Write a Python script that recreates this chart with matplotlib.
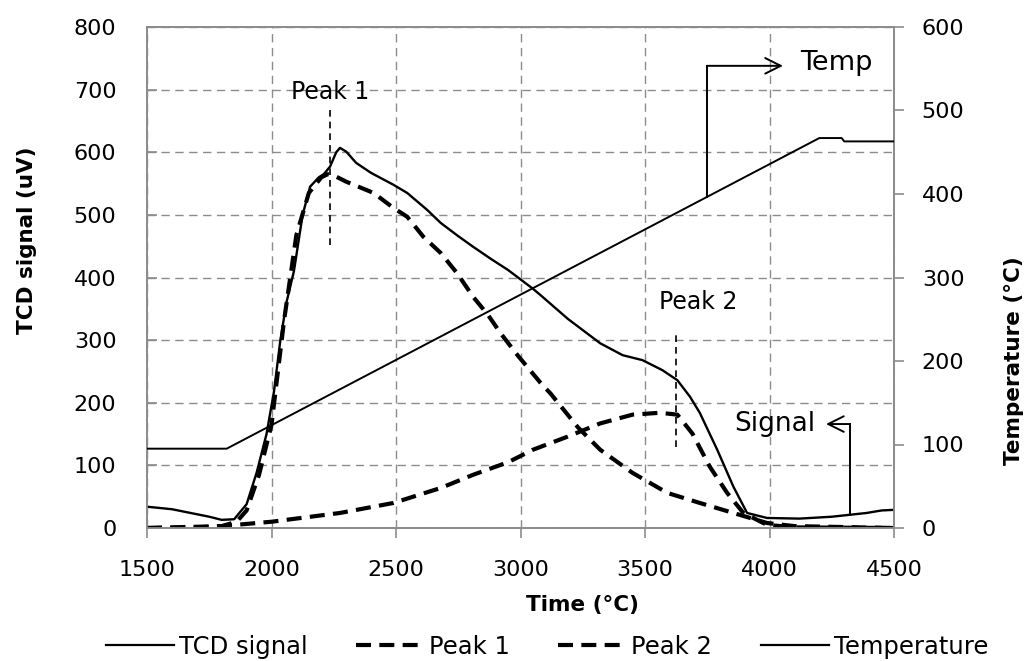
import numpy as np
import matplotlib
matplotlib.use("Agg")
import matplotlib.pyplot as plt
from matplotlib.lines import Line2D

plt.rcParams["font.family"] = ["DejaVu Sans"]

# TCD signal (uV) vs time
sig_t = [1500, 1600, 1700, 1750, 1800, 1850, 1900, 1940, 1980, 2010, 2035, 2060,
         2090, 2125, 2155, 2190, 2210, 2235, 2260, 2275, 2300, 2340, 2400, 2490,
         2545, 2625, 2680, 2750, 2810, 2880, 2950, 3050, 3080, 3190, 3320, 3410,
         3490, 3570, 3630, 3680, 3720, 3790, 3855, 3910, 3990, 4120, 4250, 4390,
         4450, 4500]
sig = [34, 30, 22, 18, 13, 14, 38, 88, 150, 218, 298, 360,
       410, 500, 545, 560, 565, 577, 600, 607, 601, 583, 567, 548,
       535, 508, 487, 466, 449, 430, 412, 382, 372, 334, 295, 276,
       268, 252, 236, 210, 184, 125, 66, 24, 16, 15, 18, 24,
       28, 29]

# deconvoluted peaks (uV)
p1_t = [1500, 1700, 1800, 1860, 1900, 1950, 2000, 2050, 2100, 2150, 2200, 2225,
        2250, 2300, 2410, 2490, 2545, 2610, 2680, 2745, 2810, 2870, 2920, 2990,
        3080, 3120, 3230, 3320, 3450, 3590, 3720, 3855, 3990, 4100, 4500]
p1 = [0, 1, 3, 10, 28, 85, 165, 330, 468, 535, 560, 565,
      563, 553, 535, 511, 497, 465, 439, 407, 369, 340, 311, 275,
      232, 215, 161, 125, 88, 56, 40, 24, 8, 3, 0]

p2_t = [1500, 1800, 2000, 2275, 2490, 2680, 2810, 2950, 3050, 3190, 3320, 3450,
        3560, 3630, 3690, 3760, 3830, 3895, 3990, 4100, 4500]
p2 = [0, 3, 10, 24, 40, 64, 85, 105, 125, 146, 167, 181,
      184, 181, 151, 98, 56, 24, 5, 1, 0]

# oven temperature (degC)
temp_t = [1500, 1820, 4200, 4290, 4300, 4500]
temp = [95, 95, 467, 467, 463, 463]

xticks = [1500, 2000, 2500, 3000, 3500, 4000, 4500]
yticks_sig = [0, 100, 200, 300, 400, 500, 600, 700, 800]
yticks_temp = [0, 100, 200, 300, 400, 500, 600]

legend_labels = ["TCD signal", "Peak 1", "Peak 2", "Temperature"]

spine_c = "#8c8c8c"
grid_c = "#8c8c8c"
peak_dash = (3.6, 2.0)

fig = plt.figure(figsize=(10.32, 6.61), dpi=100)
ax = fig.add_axes([147 / 1032, 1 - 528 / 661, 747 / 1032, 501 / 661])
ax2 = ax.twinx()

ax.plot(sig_t, sig, color="black", lw=1.7, zorder=4)
ax.plot(p1_t, p1, color="black", lw=3, dashes=peak_dash, zorder=3)
ax.plot(p2_t, p2, color="black", lw=3, dashes=peak_dash, zorder=3)
ax2.plot(temp_t, temp, color="black", lw=1.4, zorder=3)

ax.set_xlim(1500, 4500)
ax.set_ylim(0, 800)
ax2.set_ylim(0, 600)
ax.set_xticks(xticks)
ax.set_yticks(yticks_sig)
ax2.set_yticks(yticks_temp)

ax.grid(True, color=grid_c, lw=1, linestyle=(0, (6, 4)))
ax.set_axisbelow(True)

for a in (ax, ax2):
    for s in a.spines.values():
        s.set_color(spine_c)
        s.set_linewidth(1.3)

ax.tick_params(axis="y", direction="in", length=7, width=1.2, color=spine_c,
               labelsize=16, pad=22)
ax.tick_params(axis="x", direction="out", length=7, width=1.2, color=spine_c,
               labelsize=16, pad=16)
ax2.tick_params(axis="y", direction="out", length=7, width=1.2, color=spine_c,
                labelsize=16, pad=13)

# axis titles
fig.text(27 / 1032, 1 - 240 / 661, "TCD signal (uV)", rotation=90, fontsize=15.5,
         fontweight="bold", ha="center", va="center")
fig.text(583 / 1032, 1 - 605 / 661, "Time (°C)", fontsize=15.5,
         fontweight="bold", ha="center", va="center")
fig.text(1014 / 1032, 1 - 361 / 661, "Temperature (°C)", rotation=90, fontsize=15.5,
         fontweight="bold", ha="center", va="center")

# peak markers
ax.text(2235, 696, "Peak 1", fontsize=17, ha="center", va="center")
ax.plot([2235, 2235], [452, 673], color="black", lw=1.2, dashes=(4, 3), zorder=5)
ax.text(3713, 361, "Peak 2", fontsize=17, ha="center", va="center")
ax.plot([3624, 3624], [129, 311], color="black", lw=1.2, dashes=(4, 3), zorder=5)

# call-out for the temperature trace (temperature converted to left-axis units)
scale = 800 / 600
t_x = 3749
t_y0 = np.interp(t_x, temp_t, temp) * scale
ax.plot([t_x, t_x], [t_y0, 738], color="black", lw=1.4, zorder=5)
ax.annotate("", xy=(4054, 738), xytext=(t_x, 738),
            arrowprops=dict(arrowstyle="->", color="black", lw=1.4, mutation_scale=28,
                            shrinkA=0, shrinkB=0))
ax.text(4123, 743, "Temp", fontsize=19.5, ha="left", va="center")

# call-out for the signal trace
s_x = 4323
s_y0 = np.interp(s_x, sig_t, sig)
ax.plot([s_x, s_x], [s_y0, 166], color="black", lw=1.4, zorder=5)
ax.annotate("", xy=(4227, 166), xytext=(s_x, 166),
            arrowprops=dict(arrowstyle="->", color="black", lw=1.4, mutation_scale=28,
                            shrinkA=0, shrinkB=0))
ax.text(4183, 166, "Signal", fontsize=19, ha="right", va="center")

handles = [
    Line2D([], [], color="black", lw=1.6),
    Line2D([], [], color="black", lw=3, dashes=peak_dash),
    Line2D([], [], color="black", lw=3, dashes=peak_dash),
    Line2D([], [], color="black", lw=1.6),
]
fig.legend(handles, legend_labels, loc="center", bbox_to_anchor=(0.53, 1 - 647 / 661),
           ncol=4, frameon=False, fontsize=17.5, handlelength=2.8, handletextpad=0.2,
           columnspacing=2.0)

fig.savefig("out.png", dpi=100)
